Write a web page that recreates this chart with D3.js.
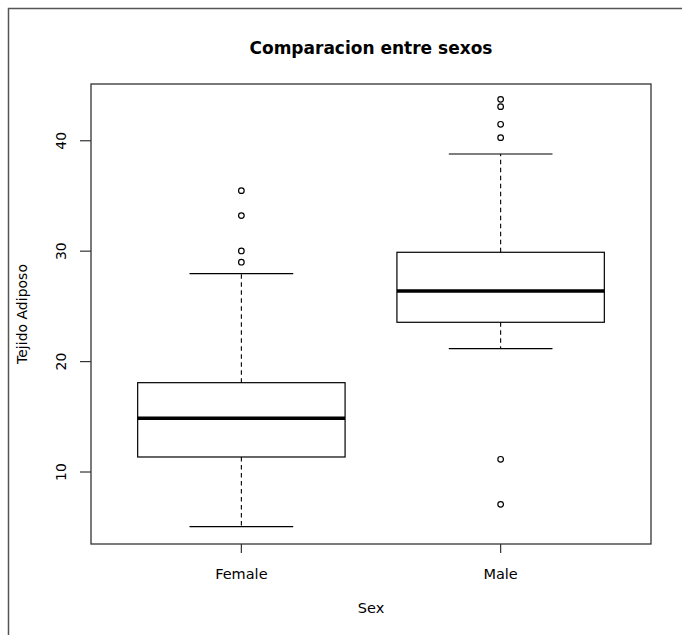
<!DOCTYPE html>
<html>
<head>
<meta charset="utf-8">
<script src="https://cdn.jsdelivr.net/npm/d3@7"></script>
<style>
  html, body { margin: 0; padding: 0; background: #fff; }
  svg { display: block; }
  text { font-family: "DejaVu Sans", sans-serif; fill: #000; }
</style>
</head>
<body>
<svg id="chart" width="682" height="635"></svg>
<script>
// ---- data ----
const categories = ["Female", "Male"];
const lowerWhisker = [5.05, 21.17];
const q1 = [11.36, 23.56];
const median = [14.86, 26.39];
const q3 = [18.09, 29.90];
const upperWhisker = [27.96, 38.80];
const outliersFemale = [35.48, 33.22, 30.02, 29.0];
const outliersMale = [43.75, 43.09, 41.49, 40.28, 11.15, 7.07];
const yTicks = [10, 20, 30, 40];
const title = "Comparacion entre sexos";
const xLabel = "Sex";
const yLabel = "Tejido Adiposo";

(function () {
const outliers = [outliersFemale, outliersMale];

const svg = d3.select("#chart");
const pLeft = 91, pRight = 651, pTop = 84, pBottom = 544;

// outer frame (only top/left visible in the cropped reference)
svg.append("rect")
  .attr("x", 8.5).attr("y", 8.5).attr("width", 720).attr("height", 720)
  .attr("fill", "none").attr("stroke", "#555").attr("stroke-width", 1.5);

const x = d3.scaleLinear().domain([0.42, 2.58]).range([pLeft, pRight]);
const y = d3.scaleLinear().domain([3.48, 45.14]).range([pBottom, pTop]);

const boxHalf = 0.4, stapleHalf = 0.2;

const g = svg.append("g");
categories.forEach((c, i) => {
  const cx = i + 1;
  g.append("line")
    .attr("x1", x(cx)).attr("x2", x(cx))
    .attr("y1", y(q3[i])).attr("y2", y(upperWhisker[i]))
    .attr("stroke", "#000").attr("stroke-width", 1.1).attr("stroke-dasharray", "4.5,3.5");
  g.append("line")
    .attr("x1", x(cx)).attr("x2", x(cx))
    .attr("y1", y(q1[i])).attr("y2", y(lowerWhisker[i]))
    .attr("stroke", "#000").attr("stroke-width", 1.1).attr("stroke-dasharray", "4.5,3.5");
  [upperWhisker[i], lowerWhisker[i]].forEach(v => {
    g.append("line")
      .attr("x1", x(cx - stapleHalf)).attr("x2", x(cx + stapleHalf))
      .attr("y1", y(v)).attr("y2", y(v))
      .attr("stroke", "#000").attr("stroke-width", 1.2);
  });
  g.append("rect")
    .attr("x", x(cx - boxHalf)).attr("y", y(q3[i]))
    .attr("width", x(cx + boxHalf) - x(cx - boxHalf))
    .attr("height", y(q1[i]) - y(q3[i]))
    .attr("fill", "none").attr("stroke", "#000").attr("stroke-width", 1.2);
  g.append("line")
    .attr("x1", x(cx - boxHalf)).attr("x2", x(cx + boxHalf))
    .attr("y1", y(median[i])).attr("y2", y(median[i]))
    .attr("stroke", "#000").attr("stroke-width", 3.5);
  g.selectAll(null).data(outliers[i]).enter().append("circle")
    .attr("cx", x(cx)).attr("cy", d => y(d)).attr("r", 2.8)
    .attr("fill", "none").attr("stroke", "#000").attr("stroke-width", 1.2);
});

// plot box
svg.append("rect")
  .attr("x", pLeft).attr("y", pTop).attr("width", pRight - pLeft).attr("height", pBottom - pTop)
  .attr("fill", "none").attr("stroke", "#333").attr("stroke-width", 1.3);

// y axis ticks
const yAxis = svg.append("g");
yTicks.forEach(t => {
  yAxis.append("line")
    .attr("x1", pLeft - 11).attr("x2", pLeft).attr("y1", y(t)).attr("y2", y(t))
    .attr("stroke", "#333").attr("stroke-width", 1.2);
  yAxis.append("text")
    .attr("transform", `translate(66,${y(t)}) rotate(-90)`)
    .attr("text-anchor", "middle").attr("font-size", 14)
    .text(t);
});

// x axis ticks
categories.forEach((c, i) => {
  svg.append("line")
    .attr("x1", x(i + 1)).attr("x2", x(i + 1)).attr("y1", pBottom).attr("y2", pBottom + 9)
    .attr("stroke", "#333").attr("stroke-width", 1.2);
  svg.append("text")
    .attr("x", x(i + 1)).attr("y", 578.5)
    .attr("text-anchor", "middle").attr("font-size", 14.5)
    .text(c);
});

// labels
svg.append("text")
  .attr("x", (pLeft + pRight) / 2).attr("y", 54)
  .attr("text-anchor", "middle").attr("font-size", 17).attr("font-weight", "bold")
  .text(title);
svg.append("text")
  .attr("x", (pLeft + pRight) / 2).attr("y", 613)
  .attr("text-anchor", "middle").attr("font-size", 14.5)
  .text(xLabel);
svg.append("text")
  .attr("transform", `translate(27,${(pTop + pBottom) / 2}) rotate(-90)`)
  .attr("text-anchor", "middle").attr("font-size", 14)
  .text(yLabel);
})();
</script>
</body>
</html>
